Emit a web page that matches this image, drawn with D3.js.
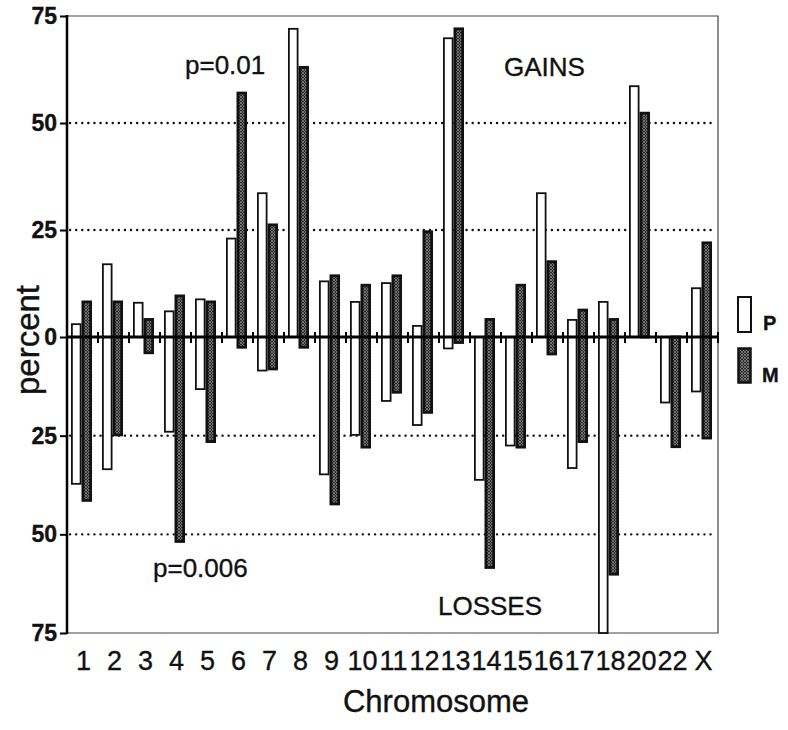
<!DOCTYPE html>
<html>
<head>
<meta charset="utf-8">
<script src="https://cdn.jsdelivr.net/npm/d3@7"></script>
<style>
  body { margin: 0; background: #fff; }
  text { font-family: "Liberation Sans", Arial, Helvetica, sans-serif; fill: #111; stroke: #111; stroke-width: 0.35px; }
</style>
</head>
<body>
<svg></svg>
<script>
var width = 788;
var height = 730;

// chromosomes on the x axis
var chroms = ["1", "2", "3", "4", "5", "6", "7", "8", "9", "10", "11", "12", "13", "14", "15", "16", "17", "18", "20", "22", "X"];
// percent gains / losses, P (primary) and M (metastasis)
var pGain = [3, 17, 8, 6, 8.8, 23, 33.6, 72, 13, 8.2, 12.6, 2.6, 69.8, 0, 0, 33.6, 4, 8.2, 58.6, 0, 11.4];
var mGain = [8.2, 8.2, 4.1, 9.6, 8.2, 57, 26.2, 63, 14.3, 12.1, 14.3, 24.6, 72, 4.1, 12.1, 17.6, 6.3, 4.1, 52.3, 0, 22];
var pLoss = [37.2, 33.5, 0, 24, 13.2, 0, 8.5, 0, 34.8, 24.8, 16.2, 22.3, 2.9, 36.2, 27.5, 0, 33.2, 75, 0, 16.6, 13.8];
var mLoss = [41.4, 24.8, 4, 51.8, 26.5, 2.6, 8.1, 2.6, 42.3, 27.9, 14, 19.1, 1.4, 58.4, 27.9, 4.3, 26.5, 60.1, 0, 27.8, 25.6];
var series = ["P", "M"];
var gainTicks = [25, 50, 75];
var lossTicks = [0, 25, 50, 75];
var gridGain = [25, 50];
var gridLoss = [25, 50];

var plotLeft = 67, plotRight = 718, plotTop = 16, plotBottom = 633, zeroY = 337;

var svg = d3.select("svg").attr("width", width).attr("height", height);

var defs = svg.append("defs");
var pat = defs.append("pattern")
    .attr("id", "stip")
    .attr("width", 3)
    .attr("height", 3)
    .attr("patternUnits", "userSpaceOnUse");
pat.append("rect").attr("width", 3).attr("height", 3).attr("fill", "#2a2a2a");
pat.append("circle").attr("cx", 1).attr("cy", 1).attr("r", 0.8).attr("fill", "#c8c8c8");
pat.append("circle").attr("cx", 2.5).attr("cy", 2.5).attr("r", 0.5).attr("fill", "#999");

var x = d3.scaleBand().domain(chroms).range([plotLeft, plotRight]).padding(0);
var xSub = d3.scaleBand().domain(series).range([0, x.bandwidth() - 2]).paddingInner(0).paddingOuter(0.38);
// the gains half and the losses half are drawn on slightly different scales
var yGain = d3.scaleLinear().domain([0, 75]).range([zeroY, plotTop]);
var yLoss = d3.scaleLinear().domain([0, 75]).range([zeroY, plotBottom]);

// dotted grid
function grid(y, vals) {
    svg.append("g").selectAll("line")
        .data(vals)
        .enter()
        .append("line")
        .attr("x1", plotLeft + 3)
        .attr("x2", plotRight - 3)
        .attr("y1", function (d) { return y(d); })
        .attr("y2", function (d) { return y(d); })
        .attr("stroke", "#111")
        .attr("stroke-width", 2.4)
        .attr("stroke-linecap", "round")
        .attr("stroke-dasharray", "0.1,6");
}
grid(yGain, gridGain);
grid(yLoss, gridLoss);

// frame (thin top, right, bottom)
svg.append("path")
    .attr("d", "M" + plotLeft + "," + plotTop + "H" + plotRight + "V" + plotBottom + "H" + plotLeft)
    .attr("fill", "none")
    .attr("stroke", "#444")
    .attr("stroke-width", 1.2);

var rows = chroms.map(function (c, i) {
    return { chrom: c, P: [pGain[i], pLoss[i]], M: [mGain[i], mLoss[i]] };
});

var groups = svg.append("g").selectAll("g")
    .data(rows)
    .enter()
    .append("g")
    .attr("transform", function (d) { return "translate(" + x(d.chrom) + ",0)"; });

groups.append("rect")
    .attr("x", function () { return xSub("P") + 0.9; })
    .attr("width", xSub.bandwidth() - 1.8)
    .attr("y", function (d) { return yGain(d.P[0]); })
    .attr("height", function (d) { return yLoss(d.P[1]) - yGain(d.P[0]); })
    .attr("fill", "#fff")
    .attr("stroke", "#111")
    .attr("stroke-width", 1.8);

groups.append("rect")
    .attr("x", function () { return xSub("M") + 1.4; })
    .attr("width", xSub.bandwidth() - 2.8)
    .attr("y", function (d) { return yGain(d.M[0]); })
    .attr("height", function (d) { return yLoss(d.M[1]) - yGain(d.M[0]); })
    .attr("fill", "url(#stip)")
    .attr("stroke", "#111")
    .attr("stroke-width", 2.8);

// zero line with ticks between chromosomes
svg.append("line")
    .attr("x1", plotLeft).attr("x2", plotRight)
    .attr("y1", zeroY).attr("y2", zeroY)
    .attr("stroke", "#000")
    .attr("stroke-width", 3);
svg.append("g").selectAll("line")
    .data(chroms.slice(1).concat(["end"]))
    .enter()
    .append("line")
    .attr("x1", function (d) { return d === "end" ? plotRight : x(d); })
    .attr("x2", function (d) { return d === "end" ? plotRight : x(d); })
    .attr("y1", zeroY - 5)
    .attr("y2", zeroY + 6)
    .attr("stroke", "#000")
    .attr("stroke-width", 2);

// y axes
var gAxis = svg.append("g")
    .attr("transform", "translate(" + plotLeft + ",0)")
    .call(d3.axisLeft(yGain).tickValues(gainTicks).tickSize(7).tickPadding(3).tickFormat(d3.format("d")));
var lAxis = svg.append("g")
    .attr("transform", "translate(" + plotLeft + ",0)")
    .call(d3.axisLeft(yLoss).tickValues(lossTicks).tickSize(7).tickPadding(3).tickFormat(d3.format("d")));
[gAxis, lAxis].forEach(function (a) {
    a.select(".domain").remove();
    a.selectAll(".tick line").attr("stroke", "#000").attr("stroke-width", 2);
    a.selectAll(".tick text")
        .attr("fill", "#111")
        .style("font-size", "23px")
        .style("font-weight", "bold")
        .style("font-family", "'Liberation Sans', Arial, sans-serif");
});
svg.append("line")
    .attr("x1", plotLeft).attr("x2", plotLeft)
    .attr("y1", plotTop - 1).attr("y2", plotBottom + 1)
    .attr("stroke", "#000")
    .attr("stroke-width", 2.5);

// chromosome labels
svg.append("g").selectAll("text")
    .data(chroms)
    .enter()
    .append("text")
    .attr("x", function (d) { return x(d) + x.bandwidth() / 2 + 1; })
    .attr("y", 670)
    .attr("text-anchor", "middle")
    .style("font-size", "27px")
    .text(function (d) { return d; });

svg.append("text")
    .attr("x", 436)
    .attr("y", 712)
    .attr("text-anchor", "middle")
    .style("font-size", "31px")
    .text("Chromosome");

svg.append("text")
    .attr("transform", "translate(39,340)rotate(-90)")
    .attr("text-anchor", "middle")
    .style("font-size", "33px")
    .text("percent");

// annotations
var notes = [
    { t: "p=0.01", x: 185, y: 74 },
    { t: "GAINS", x: 504, y: 76 },
    { t: "p=0.006", x: 153, y: 577 },
    { t: "LOSSES", x: 438, y: 615 }
];
svg.append("g").selectAll("text")
    .data(notes)
    .enter()
    .append("text")
    .attr("x", function (d) { return d.x; })
    .attr("y", function (d) { return d.y; })
    .style("font-size", "26px")
    .text(function (d) { return d.t; });

// legend
var legend = svg.append("g");
legend.append("rect")
    .attr("x", 738).attr("y", 297).attr("width", 13).attr("height", 35)
    .attr("fill", "#fff").attr("stroke", "#111").attr("stroke-width", 2);
legend.append("rect")
    .attr("x", 738.5).attr("y", 348.5).attr("width", 12).attr("height", 34)
    .attr("fill", "url(#stip)").attr("stroke", "#111").attr("stroke-width", 2.5);
legend.append("text").attr("x", 763).attr("y", 330)
    .style("font-size", "20px").style("font-weight", "bold").text("P");
legend.append("text").attr("x", 762).attr("y", 382)
    .style("font-size", "20px").style("font-weight", "bold").text("M");
</script>
</body>
</html>
